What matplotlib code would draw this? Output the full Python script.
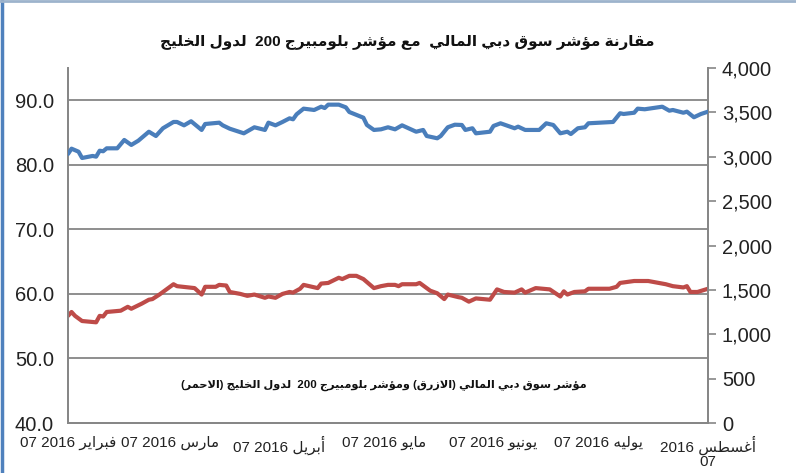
import matplotlib
matplotlib.use('Agg')
import matplotlib.pyplot as plt
import matplotlib.ticker as mticker
import pandas as pd
from matplotlib.lines import Line2D

# ---------------- data ----------------
start_date = '2016-02-07'
# Dubai Financial Market index (blue, right axis): day offset from 07 Feb 2016, value
blue_days = [0, 1, 3, 4, 7, 8, 9, 10, 11, 14, 16, 18, 20, 23, 25, 27, 30, 31, 33, 35,
             38, 39, 43, 44, 46, 50, 53, 56, 57, 59, 61, 63, 64, 65, 67, 70, 72, 73, 74, 77,
             79, 80, 84, 85, 87, 89, 91, 93, 95, 99, 101, 102, 105, 106, 108, 110, 112, 113, 115, 116,
             120, 121, 123, 127, 128, 130, 134, 136, 138, 140, 142, 143, 145, 147, 148, 155, 157, 158, 161, 162,
             164, 169, 171, 172, 175, 176, 178, 180, 182]
blue_values = [3031, 3091, 3057, 2986, 3009, 3001, 3068, 3062, 3095, 3095, 3189, 3133, 3181, 3282, 3234, 3321, 3392, 3392, 3354, 3400,
               3302, 3369, 3384, 3354, 3316, 3264, 3332, 3302, 3384, 3354, 3392, 3433, 3422, 3478, 3542, 3527, 3564, 3549, 3587, 3587,
               3557, 3504, 3440, 3358, 3302, 3309, 3332, 3309, 3354, 3282, 3302, 3234, 3208, 3234, 3332, 3361, 3358, 3302, 3321, 3264,
               3282, 3347, 3377, 3321, 3339, 3302, 3302, 3377, 3358, 3264, 3282, 3256, 3321, 3332, 3377, 3392, 3490, 3482, 3496, 3542,
               3535, 3564, 3519, 3527, 3496, 3508, 3445, 3482, 3508]
# Bloomberg GCC 200 index (red, left axis)
red_days = [0, 1, 2, 4, 6, 8, 9, 10, 11, 15, 17, 18, 21, 23, 24, 26, 28, 30, 31, 36,
            38, 39, 42, 43, 45, 46, 49, 51, 53, 56, 57, 59, 61, 63, 64, 66, 67, 71, 72, 74,
            77, 78, 80, 82, 84, 87, 89, 91, 93, 94, 95, 99, 100, 103, 105, 107, 108, 111, 112, 114,
            116, 120, 122, 124, 127, 129, 130, 133, 137, 140, 141, 142, 144, 147, 148, 154, 156, 157, 161, 165,
            168, 170, 172, 175, 176, 177, 179, 182]
red_values = [56.6, 57.2, 56.6, 55.8, 55.7, 55.6, 56.6, 56.5, 57.2, 57.4, 58.0, 57.7, 58.5, 59.1, 59.2, 59.9, 60.7, 61.5, 61.2, 60.9,
              59.9, 61.1, 61.1, 61.4, 61.3, 60.3, 60.0, 59.7, 59.9, 59.4, 59.6, 59.4, 60.0, 60.3, 60.2, 60.8, 61.4, 60.9, 61.6, 61.7,
              62.5, 62.3, 62.8, 62.8, 62.3, 60.9, 61.2, 61.4, 61.4, 61.2, 61.5, 61.5, 61.7, 60.5, 60.1, 59.2, 59.9, 59.5, 59.4, 58.8,
              59.3, 59.1, 60.7, 60.3, 60.2, 60.7, 60.2, 60.9, 60.7, 59.6, 60.4, 59.9, 60.3, 60.4, 60.8, 60.8, 61.1, 61.7, 62.0, 62.0,
              61.7, 61.5, 61.2, 61.0, 61.2, 60.3, 60.3, 60.8]

tick_dates = ['2016-02-07', '2016-03-07', '2016-04-07', '2016-05-07',
              '2016-06-07', '2016-07-07', '2016-08-07']
tick_labels = ['07 فبراير 2016', '07 مارس 2016', '07 أبريل 2016', '07 مايو 2016',
               '07 يونيو 2016', '07 يوليه 2016', '07 أغسطس 2016']
left_ticks = [40, 50, 60, 70, 80, 90]
right_ticks = [0, 500, 1000, 1500, 2000, 2500, 3000, 3500, 4000]
title_text = 'مقارنة مؤشر سوق دبي المالي  مع مؤشر بلومبيرج 200  لدول الخليج'
note_text = 'مؤشر سوق دبي المالي (الازرق) ومؤشر بلومبيرج 200  لدول الخليج (الاحمر)'

# ---------------- minimal Arabic shaping (presentation forms) ----------------
FORMS = {
    'ء': ('\uFE80',),
    'آ': ('\uFE81', '\uFE82'), 'أ': ('\uFE83', '\uFE84'), 'ؤ': ('\uFE85', '\uFE86'),
    'إ': ('\uFE87', '\uFE88'), 'ئ': ('\uFE89', '\uFE8A', '\uFE8B', '\uFE8C'),
    'ا': ('\uFE8D', '\uFE8E'), 'ب': ('\uFE8F', '\uFE90', '\uFE91', '\uFE92'),
    'ة': ('\uFE93', '\uFE94'), 'ت': ('\uFE95', '\uFE96', '\uFE97', '\uFE98'),
    'ث': ('\uFE99', '\uFE9A', '\uFE9B', '\uFE9C'), 'ج': ('\uFE9D', '\uFE9E', '\uFE9F', '\uFEA0'),
    'ح': ('\uFEA1', '\uFEA2', '\uFEA3', '\uFEA4'), 'خ': ('\uFEA5', '\uFEA6', '\uFEA7', '\uFEA8'),
    'د': ('\uFEA9', '\uFEAA'), 'ذ': ('\uFEAB', '\uFEAC'), 'ر': ('\uFEAD', '\uFEAE'),
    'ز': ('\uFEAF', '\uFEB0'), 'س': ('\uFEB1', '\uFEB2', '\uFEB3', '\uFEB4'),
    'ش': ('\uFEB5', '\uFEB6', '\uFEB7', '\uFEB8'), 'ص': ('\uFEB9', '\uFEBA', '\uFEBB', '\uFEBC'),
    'ض': ('\uFEBD', '\uFEBE', '\uFEBF', '\uFEC0'), 'ط': ('\uFEC1', '\uFEC2', '\uFEC3', '\uFEC4'),
    'ظ': ('\uFEC5', '\uFEC6', '\uFEC7', '\uFEC8'), 'ع': ('\uFEC9', '\uFECA', '\uFECB', '\uFECC'),
    'غ': ('\uFECD', '\uFECE', '\uFECF', '\uFED0'), 'ف': ('\uFED1', '\uFED2', '\uFED3', '\uFED4'),
    'ق': ('\uFED5', '\uFED6', '\uFED7', '\uFED8'), 'ك': ('\uFED9', '\uFEDA', '\uFEDB', '\uFEDC'),
    'ل': ('\uFEDD', '\uFEDE', '\uFEDF', '\uFEE0'), 'م': ('\uFEE1', '\uFEE2', '\uFEE3', '\uFEE4'),
    'ن': ('\uFEE5', '\uFEE6', '\uFEE7', '\uFEE8'), 'ه': ('\uFEE9', '\uFEEA', '\uFEEB', '\uFEEC'),
    'و': ('\uFEED', '\uFEEE'), 'ى': ('\uFEEF', '\uFEF0'),
    'ي': ('\uFEF1', '\uFEF2', '\uFEF3', '\uFEF4'),
}
LAM_ALEF = {'آ': ('\uFEF5', '\uFEF6'), 'أ': ('\uFEF7', '\uFEF8'),
            'إ': ('\uFEF9', '\uFEFA'), 'ا': ('\uFEFB', '\uFEFC')}


def is_arabic(s):
    return any('\u0600' <= c <= '\u06FF' for c in s)


def shape_word(w):
    units = []
    i = 0
    while i < len(w):
        c = w[i]
        if c == 'ل' and i + 1 < len(w) and w[i + 1] in LAM_ALEF:
            units.append(LAM_ALEF[w[i + 1]])
            i += 2
        else:
            units.append(FORMS.get(c, c))
            i += 1
    out = []
    for j, u in enumerate(units):
        if not isinstance(u, tuple):
            out.append(u)
            continue
        prev_ok = j > 0 and isinstance(units[j - 1], tuple) and len(units[j - 1]) == 4
        next_ok = (len(u) == 4 and j + 1 < len(units) and isinstance(units[j + 1], tuple)
                   and len(units[j + 1]) >= 2)
        if prev_ok and next_ok:
            out.append(u[3])
        elif prev_ok:
            out.append(u[1])
        elif next_ok:
            out.append(u[2])
        else:
            out.append(u[0])
    return ''.join(out)


def visual_token(t):
    if not is_arabic(t):
        return t
    s = shape_word(t)[::-1]
    return s.translate(str.maketrans('()', ')('))


def rtl_visual(text):
    """Right-to-left paragraph: reverse the word order, shape Arabic words."""
    return ' '.join(visual_token(t) for t in text.split(' ')[::-1])


def ltr_visual(text):
    """Left-to-right paragraph holding an Arabic run (Arabic word + number)."""
    toks = text.split(' ')
    lead = toks[0]
    run = ' '.join(visual_token(t) for t in toks[1:][::-1])
    return lead, run


# ---------------- figure ----------------
FONT = ['Liberation Sans', 'DejaVu Sans']
plt.rcParams['font.family'] = FONT

W, H = 796, 473
fig = plt.figure(figsize=(W / 100, H / 100), dpi=100)
fig.patch.set_facecolor('white')

L, R, T, B = 68, 708, 68, 423
ax = fig.add_axes([L / W, 1 - B / H, (R - L) / W, (B - T) / H])
ax2 = ax.twinx()

grey = '#868686'
blue = '#4A7EBB'
red = '#BE4B48'

t0 = pd.Timestamp(start_date)
blue_x = t0 + pd.to_timedelta(blue_days, unit='D')
red_x = t0 + pd.to_timedelta(red_days, unit='D')

ax.plot(red_x, red_values, color=red, lw=3.0, solid_capstyle='round',
        solid_joinstyle='round', zorder=3)
ax2.plot(blue_x, blue_values, color=blue, lw=3.0, solid_capstyle='round',
         solid_joinstyle='round', zorder=3)

xt = pd.to_datetime(tick_dates)
ax.set_xlim(xt[0], xt[-1])
ax.set_ylim(40, 95)
ax2.set_ylim(0, 4000)

ax.set_yticks(left_ticks)
ax.yaxis.set_major_formatter(mticker.FormatStrFormatter('%.1f'))
ax2.set_yticks(right_ticks)
ax2.yaxis.set_major_formatter(mticker.StrMethodFormatter('{x:,.0f}'))

for g in left_ticks[1:]:
    ax.axhline(g, color=grey, lw=1.3, zorder=1)

xlabels = []
for i, lab in enumerate(tick_labels):
    lead, run = ltr_visual(lab)
    if i == len(tick_labels) - 1:
        xlabels.append(run + '\n' + lead)   # the last label wraps in the reference
    else:
        xlabels.append(lead + ' ' + run)
ax.set_xticks(xt)
ax.set_xticklabels(xlabels, fontsize=11, color='#222222', linespacing=1.05)

ax.tick_params(axis='y', length=0, pad=10, labelsize=14.5, labelcolor='#222222')
ax.tick_params(axis='x', length=0, pad=9)
ax2.tick_params(axis='y', length=6, width=1.2, color=grey, pad=4, labelsize=14.5,
                labelcolor='#222222')

for a in (ax, ax2):
    a.spines['top'].set_visible(False)
    for s in ('left', 'right', 'bottom'):
        a.spines[s].set_color(grey)
        a.spines[s].set_linewidth(1.3)
    a.set_facecolor('none')

# title and note
fig.text(0.512, 1 - 43 / H, rtl_visual(title_text), ha='center', va='center',
         fontsize=11, fontweight='bold', color='#111111')
fig.text(0.482, 1 - 385 / H, rtl_visual(note_text), ha='center', va='center',
         fontsize=8.2, fontweight='bold', color='#111111')

# screenshot frame: blue left border and light top border
fig.add_artist(Line2D([1.5 / W, 1.5 / W], [0, 1], color='#4F81BD', lw=2.5,
                      transform=fig.transFigure))
fig.add_artist(Line2D([0, 1], [1 - 1.5 / H, 1 - 1.5 / H], color='#9DB3CC', lw=2,
                      transform=fig.transFigure))

fig.savefig('out.png', dpi=100)
